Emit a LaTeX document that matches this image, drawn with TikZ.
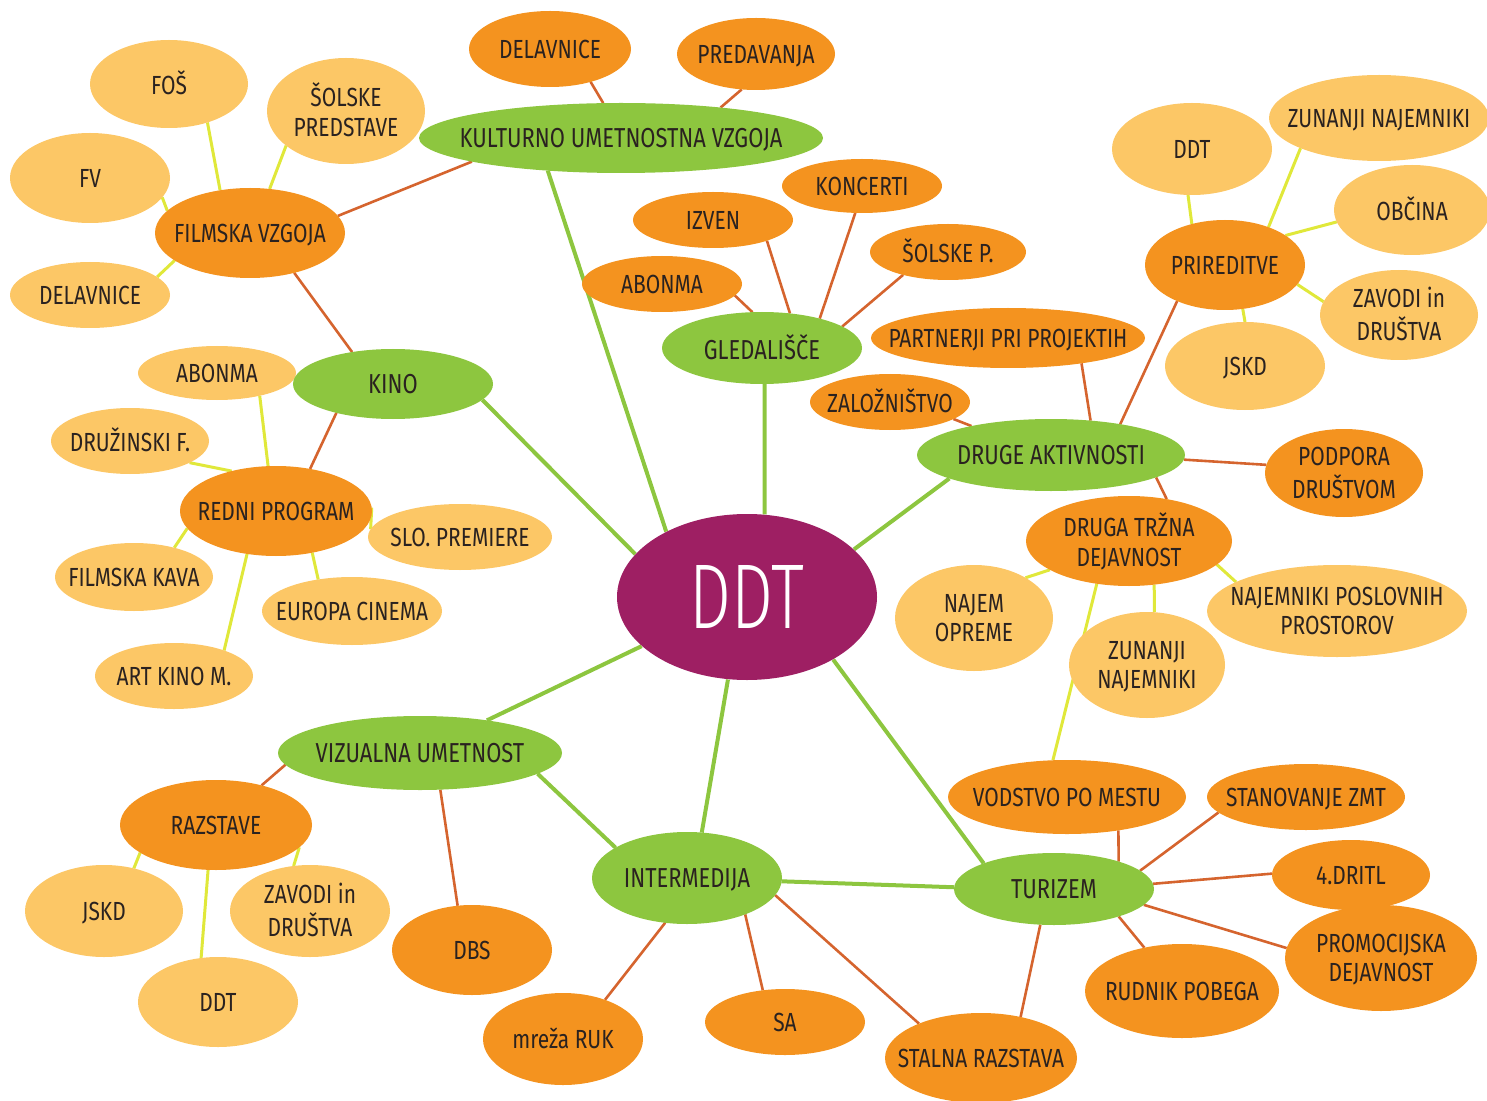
\documentclass[tikz,border=0pt]{standalone}
\usepackage{fontspec}
\setmainfont{Fira Sans}[FakeStretch=0.8]
\newfontfamily\ddtfont{Fira Sans Light}[FakeStretch=0.72]
\usetikzlibrary{shapes.geometric,backgrounds}
\definecolor{cLight}{HTML}{FCC766}
\definecolor{cOrange}{HTML}{F4931F}
\definecolor{cGreen}{HTML}{8DC63F}
\definecolor{cPurple}{HTML}{9E1F63}
\definecolor{cBrown}{HTML}{D5642E}
\definecolor{cYellow}{HTML}{E0E83A}
\definecolor{cText}{HTML}{2A2220}
\newcommand\lbl[1]{\makebox[0pt]{\raisebox{-1.6pt}[\height][\depth]{\begin{tabular}{@{}c@{}}#1\end{tabular}}}}
\tikzset{
  sz/.style 2 args={minimum width=#1pt, minimum height=#2pt},
  bub/.style={ellipse, inner sep=0pt, outer sep=0pt, text=cText,
    font=\fontsize{13.1}{15.5}\selectfont},
  lt/.style={bub, fill=cLight},
  or/.style={bub, fill=cOrange},
  gr/.style={bub, fill=cGreen, font=\fontsize{13.7}{15.5}\selectfont},
  ddtnode/.style={ellipse, inner sep=0pt, fill=cPurple, text=white,
    font=\ddtfont\fontsize{46}{46}\selectfont},
  gl/.style={draw=cGreen, line width=2pt},
  bl/.style={draw=cBrown, line width=1.3pt},
  yl/.style={draw=cYellow, line width=1.5pt},
}
\renewcommand\arraystretch{0.95}
\begin{document}
\begin{tikzpicture}[x=0.5pt,y=-0.5pt]
\useasboundingbox (0,0) rectangle (1487,1101);
% top-left
\node[lt,sz={79}{44}] (fos) at (169,84) {\lbl{FOŠ}};
\node[lt,sz={79}{53}] (solpred) at (346,111) {\lbl{ŠOLSKE\\PREDSTAVE}};
\node[lt,sz={80}{45}] (fv) at (90,178) {\lbl{FV}};
\node[or,sz={95}{45}] (filv) at (250,233) {\lbl{FILMSKA VZGOJA}};
\node[lt,sz={80}{33}] (delL) at (90,295) {\lbl{DELAVNICE}};
\node[gr,sz={202}{35}] (kuv) at (621,138) {\lbl{KULTURNO UMETNOSTNA VZGOJA}};
\node[or,sz={81}{38}] (delT) at (550,49) {\lbl{DELAVNICE}};
\node[or,sz={79}{36}] (pred) at (756,54) {\lbl{PREDAVANJA}};
% theatre
\node[or,sz={80}{28}] (izven) at (713,220) {\lbl{IZVEN}};
\node[or,sz={80}{27}] (konc) at (862,186) {\lbl{KONCERTI}};
\node[or,sz={78}{28}] (solp) at (948,252) {\lbl{ŠOLSKE P.}};
\node[or,sz={80}{28}] (abM) at (662,284) {\lbl{ABONMA}};
\node[gr,sz={100}{36}] (gled) at (762,348) {\lbl{GLEDALIŠČE}};
% other activities
\node[or,sz={137}{30}] (part) at (1008,338) {\lbl{PARTNERJI PRI PROJEKTIH}};
\node[or,sz={80}{28}] (zal) at (890,402) {\lbl{ZALOŽNIŠTVO}};
\node[gr,sz={134}{36}] (druge) at (1051,455) {\lbl{DRUGE AKTIVNOSTI}};
\node[or,sz={79}{44}] (podp) at (1344,473) {\lbl{PODPORA\\DRUŠTVOM}};
\node[or,sz={103}{45}] (druga) at (1129,541) {\lbl{DRUGA TRŽNA\\DEJAVNOST}};
\node[lt,sz={79}{53}] (najem) at (974,618) {\lbl{NAJEM\\OPREME}};
\node[lt,sz={78}{53}] (zunM) at (1147,665) {\lbl{ZUNANJI\\NAJEMNIKI}};
\node[lt,sz={130}{46}] (najp) at (1337,611) {\lbl{NAJEMNIKI POSLOVNIH\\PROSTOROV}};
\node[lt,sz={80}{46}] (ddtR) at (1192,149) {\lbl{DDT}};
\node[lt,sz={110}{43}] (zunR) at (1379,118) {\lbl{ZUNANJI NAJEMNIKI}};
\node[lt,sz={78}{45}] (obc) at (1412,210) {\lbl{OBČINA}};
\node[or,sz={80}{45}] (prir) at (1225,265) {\lbl{PRIREDITVE}};
\node[lt,sz={79}{45}] (zavR) at (1399,315) {\lbl{ZAVODI in\\DRUŠTVA}};
\node[lt,sz={80}{44}] (jskdR) at (1245,366) {\lbl{JSKD}};
% cinema
\node[lt,sz={79}{27}] (abL) at (217,373) {\lbl{ABONMA}};
\node[gr,sz={100}{35}] (kino) at (393,384) {\lbl{KINO}};
\node[lt,sz={79}{33}] (druz) at (130,441) {\lbl{DRUŽINSKI F.}};
\node[or,sz={96}{45}] (redni) at (276,511) {\lbl{REDNI PROGRAM}};
\node[lt,sz={92}{33}] (slo) at (460,537) {\lbl{SLO. PREMIERE}};
\node[lt,sz={79}{34}] (fkava) at (134,577) {\lbl{FILMSKA KAVA}};
\node[lt,sz={90}{34}] (euro) at (352,611) {\lbl{EUROPA CINEMA}};
\node[lt,sz={79}{33}] (art) at (174,676) {\lbl{ART KINO M.}};
% centre
\node[ddtnode,sz={130}{83}] (ddt) at (747,597) {\makebox[0pt]{DDT}};
% visual art
\node[gr,sz={142}{37}] (viz) at (420,753) {\lbl{VIZUALNA UMETNOST}};
\node[or,sz={96}{45}] (raz) at (216,825) {\lbl{RAZSTAVE}};
\node[lt,sz={79}{46}] (jskdL) at (104,911) {\lbl{JSKD}};
\node[lt,sz={80}{46}] (zavL) at (310,911) {\lbl{ZAVODI in\\DRUŠTVA}};
\node[lt,sz={80}{45}] (ddtB) at (218,1002) {\lbl{DDT}};
\node[or,sz={80}{45}] (dbs) at (472,950) {\lbl{DBS}};
% intermedia
\node[gr,sz={95}{46}] (inter) at (687,878) {\lbl{INTERMEDIJA}};
\node[or,sz={80}{46}] (ruk) at (563,1039) {\lbl{mreža RUK}};
\node[or,sz={80}{33}] (sa) at (785,1022) {\lbl{SA}};
\node[or,sz={96}{45}] (stal) at (981,1058) {\lbl{STALNA RAZSTAVA}};
% tourism
\node[gr,sz={100}{36}] (tur) at (1054,889) {\lbl{TURIZEM}};
\node[or,sz={119}{37}] (vod) at (1067,797) {\lbl{VODSTVO PO MESTU}};
\node[or,sz={99}{33}] (stan) at (1306,797) {\lbl{STANOVANJE ZMT}};
\node[or,sz={79}{35}] (dritl) at (1351,875) {\lbl{4.DRITL}};
\node[or,sz={96}{53}] (promo) at (1381,958) {\lbl{PROMOCIJSKA\\DEJAVNOST}};
\node[or,sz={97}{47}] (rud) at (1182,991) {\lbl{RUDNIK POBEGA}};

\begin{pgfonlayer}{background}
% green
\draw[gl] (kuv.204) -- (ddt.141);
\draw[gl] (kino.350) -- (ddt.159);
\draw[gl] (gled.274) -- (ddt.78);
\draw[gl] (druge.193) -- (ddt.24);
\draw[gl] (viz.26) -- (ddt.205);
\draw[gl] (inter.72) -- (ddt.257);
\draw[gl] (tur.160) -- (ddt.324);
\draw[gl] (viz.350) -- (inter.157);
\draw[gl] (inter.358) -- (tur.179);
% brown
\draw[bl] (kuv.189) -- (filv.11);
\draw[bl] (kuv.117) -- (delT.321);
\draw[bl] (kuv.17) -- (pred.248);
\draw[bl] (kino.142) -- (filv.318);
\draw[bl] (kino.207) -- (redni.51);
\draw[bl] (gled.105) -- (abM.351);
\draw[bl] (gled.51) -- (izven.339);
\draw[bl] (gled.27) -- (konc.256);
\draw[bl] (gled.15) -- (solp.207);
\draw[bl] (druge.160) -- (zal.345);
\draw[bl] (druge.41) -- (part.341);
\draw[bl] (druge.24) -- (prir.217);
\draw[bl] (druge.358) -- (podp.174);
\draw[bl] (druge.348) -- (druga.48);
\draw[bl] (viz.185) -- (raz.41);
\draw[bl] (viz.299) -- (dbs.108);
\draw[bl] (inter.244) -- (ruk.43);
\draw[bl] (inter.328) -- (sa.125);
\draw[bl] (inter.349) -- (stal.151);
\draw[bl] (tur.249) -- (stal.46);
\draw[bl] (tur.337) -- (rud.131);
\draw[bl] (tur.350) -- (promo.174);
\draw[bl] (tur.3) -- (dritl.179);
\draw[bl] (tur.12) -- (stan.190);
\draw[bl] (tur.23) -- (vod.327);
% yellow
\draw[yl] (fos.315) -- (filv.125);
\draw[yl] (solpred.210) -- (filv.66);
\draw[yl] (fv.345) -- (filv.165);
\draw[yl] (delL.15) -- (filv.200);
\draw[yl] (abL.332) -- (redni.100);
\draw[yl] (druz.340) -- (redni.138);
\draw[yl] (slo.175) -- (redni.2);
\draw[yl] (fkava.36) -- (redni.191);
\draw[yl] (euro.137) -- (redni.311);
\draw[yl] (art.27) -- (redni.236);
\draw[yl] (ddtR.265) -- (prir.129);
\draw[yl] (zunR.201) -- (prir.41);
\draw[yl] (obc.189) -- (prir.26);
\draw[yl] (zavR.170) -- (prir.345);
\draw[yl] (jskdR.90) -- (prir.292);
\draw[yl] (druga.200) -- (najem.38);
\draw[yl] (druga.300) -- (zunM.82);
\draw[yl] (druga.345) -- (najp.164);
\draw[yl] (druga.233) -- (vod.111);
\draw[yl] (raz.200) -- (jskdL.55);
\draw[yl] (raz.260) -- (ddtB.111);
\draw[yl] (raz.345) -- (zavL.110);
\end{pgfonlayer}
\end{tikzpicture}
\end{document}
